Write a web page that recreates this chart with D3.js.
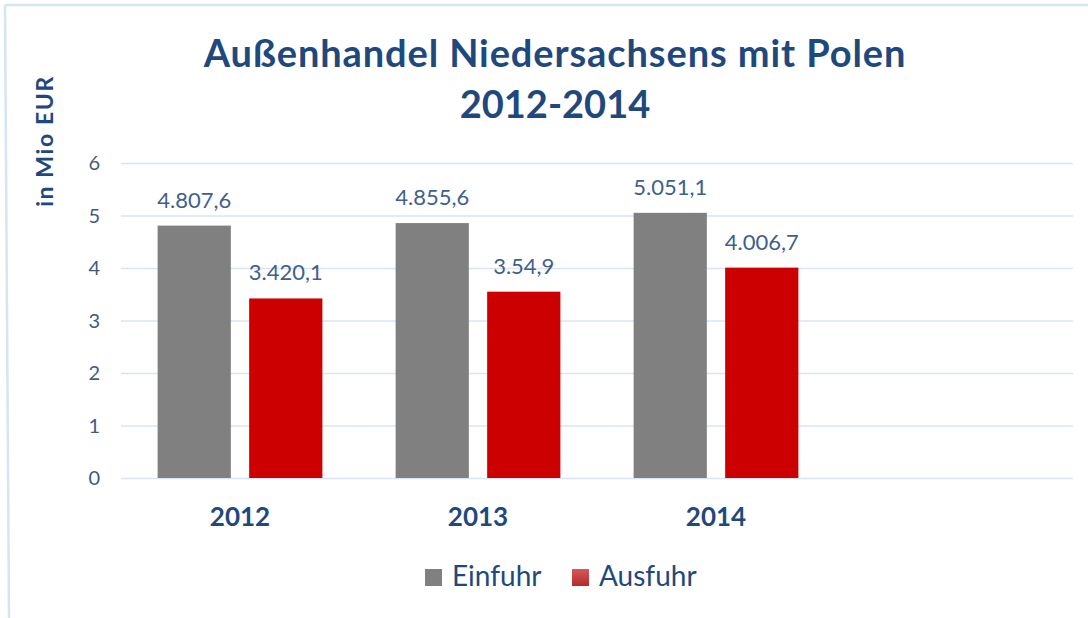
<!DOCTYPE html>
<html>
<head>
<meta charset="utf-8">
<script src="https://cdn.jsdelivr.net/npm/d3@7"></script>
<style>
  body { margin: 0; background: #fff; }
  svg { display: block; }
  .ac-grid line { stroke: #d9e5f4; stroke-width: 1.5; }
  .ac-grid .domain { display: none; }
  .ac-tick text { font-family: Lato, sans-serif; font-size: 20px; fill: #435a80; }
</style>
</head>
<body>
<div id="chart"></div>
<script>
const years = ['2012', '2013', '2014', ''];
const seriesNames = ['Einfuhr', 'Ausfuhr'];
const einfuhr = [4.8076, 4.8556, 5.0511];
const ausfuhr = [3.4201, 3.549, 4.0067];
const einfuhrLabels = ['4.807,6', '4.855,6', '5.051,1'];
const ausfuhrLabels = ['3.420,1', '3.54,9', '4.006,7'];
const yTicks = [0, 1, 2, 3, 4, 5, 6];

const colors = { Einfuhr: '#808080', Ausfuhr: '#cc0000' };

const width = 1088;
const height = 618;
const plot = { left: 121, right: 1073, top: 163, bottom: 478 };

const data = years.slice(0, 3).map((year, i) => ({
  year,
  values: [
    { name: 'Einfuhr', value: einfuhr[i], label: einfuhrLabels[i] },
    { name: 'Ausfuhr', value: ausfuhr[i], label: ausfuhrLabels[i] },
  ],
}));

const svg = d3.select('#chart')
  .append('svg')
  .attr('width', width)
  .attr('height', height);

const defs = svg.append('defs');
const grad = defs.append('linearGradient')
  .attr('id', 'legend-red')
  .attr('x1', 0).attr('y1', 0).attr('x2', 0).attr('y2', 1);
grad.append('stop').attr('offset', '0%').attr('stop-color', '#d45a5a');
grad.append('stop').attr('offset', '100%').attr('stop-color', '#b52a2a');

// chart frame (only top and left edges visible)
svg.append('path')
  .attr('d', 'M5,5 L9,618 M5,5 L1088,5')
  .attr('fill', 'none')
  .attr('stroke', '#d8e4f3')
  .attr('stroke-width', 2.5);

const x0 = d3.scaleBand()
  .domain(years)
  .range([plot.left, plot.right]);

const x1 = d3.scaleBand()
  .domain(seriesNames)
  .range([0, x0.bandwidth()])
  .paddingInner(0.2)
  .paddingOuter(0.4);

const y = d3.scaleLinear()
  .domain([0, 6])
  .range([plot.bottom, plot.top]);

// gridlines
svg.append('g')
  .attr('class', 'ac-grid')
  .attr('transform', `translate(${plot.left}, 0)`)
  .call(d3.axisRight(y).tickValues(yTicks).tickSize(plot.right - plot.left).tickFormat(''));

// y tick labels
svg.append('g')
  .attr('class', 'ac-tick')
  .selectAll('text')
  .data(yTicks)
  .enter()
  .append('text')
  .attr('x', 100)
  .attr('y', d => y(d) + 7)
  .attr('text-anchor', 'end')
  .text(d => d);

// y axis title
svg.append('text')
  .attr('transform', 'translate(53, 141) rotate(-90)')
  .attr('text-anchor', 'middle')
  .attr('font-family', 'Lato, sans-serif')
  .attr('font-weight', 'bold')
  .attr('font-size', 23)
  .attr('letter-spacing', 1.6)
  .attr('fill', '#1f497d')
  .text('in Mio EUR');

// bars
const group = svg.selectAll('.ac-bar-group')
  .data(data)
  .enter()
  .append('g')
  .attr('class', 'ac-bar-group')
  .attr('transform', d => `translate(${x0(d.year)}, 0)`);

group.selectAll('rect')
  .data(d => d.values)
  .enter()
  .append('rect')
  .attr('x', d => x1(d.name))
  .attr('y', d => y(d.value))
  .attr('width', x1.bandwidth())
  .attr('height', d => y(0) - y(d.value))
  .attr('fill', d => colors[d.name]);

group.selectAll('.ac-bar-label')
  .data(d => d.values)
  .enter()
  .append('text')
  .attr('class', 'ac-bar-label')
  .attr('x', d => x1(d.name) + x1.bandwidth() / 2)
  .attr('y', d => y(d.value) - 18)
  .attr('text-anchor', 'middle')
  .attr('font-family', 'Lato, sans-serif')
  .attr('font-size', 22)
  .attr('fill', '#3f5f8c')
  .text(d => d.label);

// x category labels
svg.append('g')
  .selectAll('text')
  .data(years.filter(d => d))
  .enter()
  .append('text')
  .attr('x', d => x0(d) + x0.bandwidth() / 2)
  .attr('y', 526)
  .attr('text-anchor', 'middle')
  .attr('font-family', 'Lato, sans-serif')
  .attr('font-weight', 'bold')
  .attr('font-size', 26)
  .attr('fill', '#1f497d')
  .text(d => d);

// title
const title = svg.append('text')
  .attr('text-anchor', 'middle')
  .attr('font-family', 'Lato, sans-serif')
  .attr('font-weight', 'bold')
  .attr('font-size', 38)
  .attr('fill', '#1f497d');
title.append('tspan')
  .attr('x', 555)
  .attr('y', 67)
  .attr('letter-spacing', 0.9)
  .text('Außenhandel Niedersachsens mit Polen');
title.append('tspan').attr('x', 555).attr('y', 118).text('2012-2014');

// legend
const legendX = [425, 572];
const legend = svg.selectAll('.ac-legend')
  .data(seriesNames)
  .enter()
  .append('g')
  .attr('class', 'ac-legend')
  .attr('transform', (d, i) => `translate(${legendX[i]}, 569)`);

legend.append('rect')
  .attr('width', 17)
  .attr('height', 17)
  .attr('fill', d => (d === 'Ausfuhr' ? 'url(#legend-red)' : colors[d]));

legend.append('text')
  .attr('x', 27)
  .attr('y', 17)
  .attr('font-family', 'Lato, sans-serif')
  .attr('font-size', 28)
  .attr('fill', '#1f497d')
  .text(d => d);
</script>
</body>
</html>
